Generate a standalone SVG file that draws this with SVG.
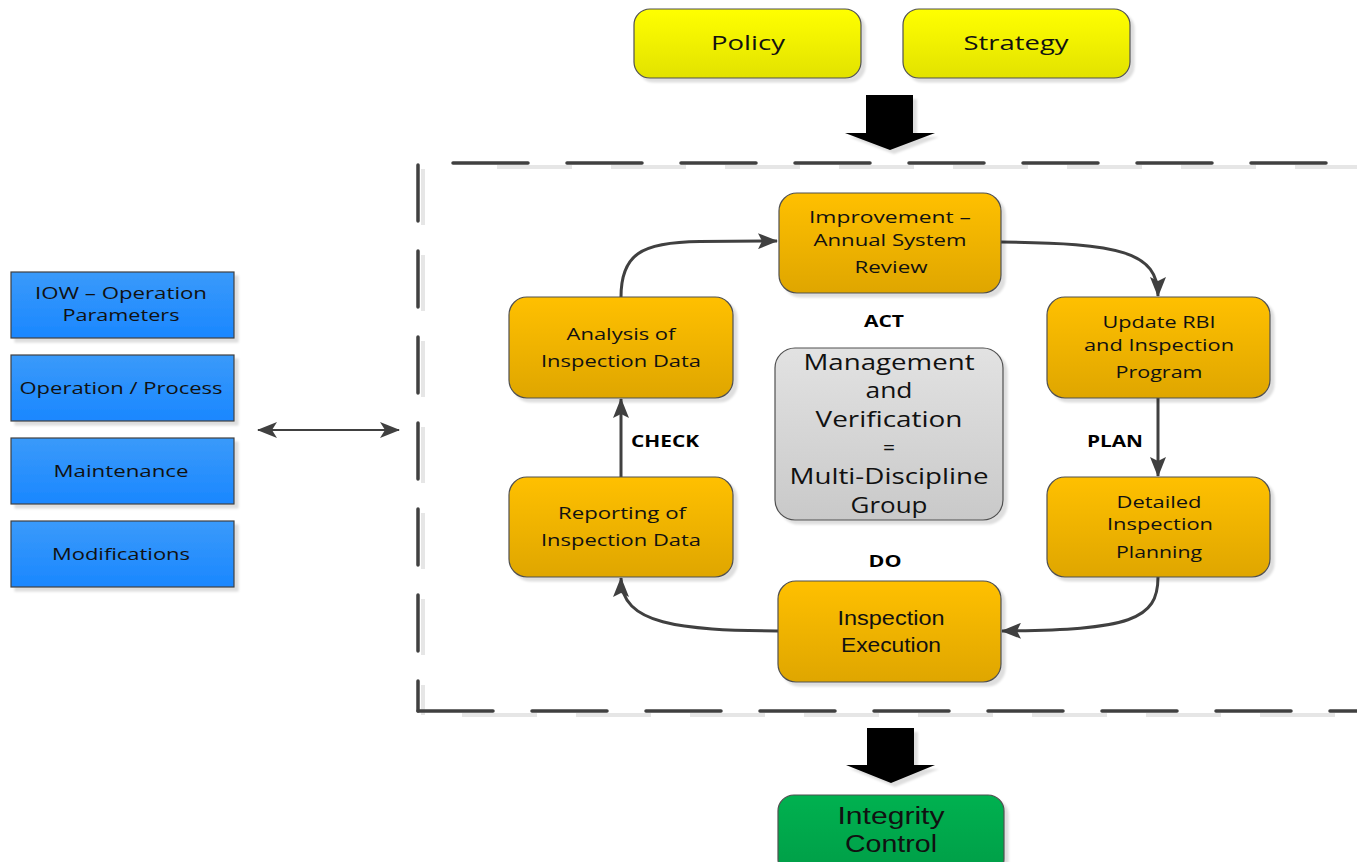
<svg xmlns="http://www.w3.org/2000/svg" width="1357" height="862" viewBox="0 0 1357 862">
<defs>
<linearGradient id="gOrange" x1="0" y1="0" x2="0" y2="1"><stop offset="0" stop-color="#FFC000"/><stop offset="1" stop-color="#DFA600"/></linearGradient>
<linearGradient id="gYellow" x1="0" y1="0" x2="0" y2="1"><stop offset="0" stop-color="#FFFF00"/><stop offset="1" stop-color="#E2E200"/></linearGradient>
<linearGradient id="gBlue" x1="0" y1="0" x2="0" y2="1"><stop offset="0" stop-color="#3A9AFA"/><stop offset="1" stop-color="#1A87FF"/></linearGradient>
<linearGradient id="gGreen" x1="0" y1="0" x2="0" y2="1"><stop offset="0" stop-color="#00B150"/><stop offset="1" stop-color="#009E48"/></linearGradient>
<linearGradient id="gGrey" x1="0" y1="0" x2="0" y2="1"><stop offset="0" stop-color="#E2E2E2"/><stop offset="1" stop-color="#C9C9C9"/></linearGradient>
<filter id="sh" x="-10%" y="-10%" width="130%" height="130%"><feDropShadow dx="4" dy="4" stdDeviation="1" flood-color="#000" flood-opacity="0.13"/></filter>
<marker id="ah" viewBox="0 0 20 16" refX="19" refY="8" markerWidth="20" markerHeight="16" markerUnits="userSpaceOnUse" orient="auto"><path d="M0,0 L20,8 L0,16 L4,8 z" fill="#404040"/></marker>
<marker id="ah2" viewBox="0 0 20 16" refX="19" refY="8" markerWidth="20" markerHeight="16" markerUnits="userSpaceOnUse" orient="auto-start-reverse"><path d="M0,0 L20,8 L0,16 L5,8 z" fill="#404040"/></marker>
</defs>
<style>
.box{stroke:#505050;stroke-width:1.2;filter:url(#sh)}
.or{fill:url(#gOrange)}
.bl{fill:url(#gBlue);stroke:#404040}
.t{font-family:"Open Sans","Liberation Sans",sans-serif;fill:#111;text-anchor:middle}
.s17{font-size:17px}
.s20{font-size:20px}
.s21{font-size:21px}
.lab{font-family:"Open Sans","Liberation Sans",sans-serif;font-weight:bold;font-size:16px;fill:#000;text-anchor:middle}
.cn{font-family:"Liberation Sans","Open Sans",sans-serif;fill:#111;text-anchor:middle}
.dash{fill:none;stroke:#404040;stroke-width:3.5;stroke-linecap:round}
.dsh{fill:none;stroke:#E6E6E6;stroke-width:4}
.con{fill:none;stroke:#404040;stroke-width:3}
</style>

<!-- dashed frame -->
<g id="frame">
<path class="dsh" d="M497,167 H1357" stroke-dasharray="75 39"/>
<path class="dsh" d="M462,715 H1357" stroke-dasharray="75 39"/>
<path class="dsh" d="M423,169 V715" stroke-dasharray="56 30"/>
<path class="dash" d="M453,163 H1357" stroke-dasharray="75 39"/>
<path class="dash" d="M418,165 V711" stroke-dasharray="56 30"/>
<path class="dash" d="M418,711 H1357" stroke-dasharray="75 39"/>
</g>

<!-- big arrows -->
<g id="arrowTop" filter="url(#sh)"><path d="M866,95 H913 V133 H935 L890,150 L845,133 H866 z" fill="#000"/></g>
<g id="arrowBottom" filter="url(#sh)"><path d="M867,728 H914 V765 H935 L891,783 L846,765 H867 z" fill="#000"/></g>

<!-- connectors -->
<g id="connectors">
<path class="con" d="M621,297 C621,255 640,242 700,241.5 L777,241" marker-end="url(#ah)"/>
<path class="con" d="M1001,242 C1120,243 1158,252 1158,296" marker-end="url(#ah)"/>
<path class="con" d="M1158,398 L1158,476" marker-end="url(#ah)"/>
<path class="con" d="M1158,577 C1158,620 1130,630 1002,631" marker-end="url(#ah)"/>
<path class="con" d="M778,631 C680,630 621,625 621,578" marker-end="url(#ah)"/>
<path class="con" d="M621,477 L621,399" marker-end="url(#ah)"/>
<path d="M258,430 H399" fill="none" stroke="#404040" stroke-width="2" marker-start="url(#ah2)" marker-end="url(#ah2)"/>
</g>

<!-- top -->
<g id="policy"><rect class="box" x="634" y="9" width="227" height="69" rx="16" fill="url(#gYellow)"/><text class="t s20" x="748" y="50" textLength="74" lengthAdjust="spacingAndGlyphs">Policy</text></g>
<g id="strategy"><rect class="box" x="903" y="9" width="227" height="69" rx="16" fill="url(#gYellow)"/><text class="t s20" x="1016" y="50" textLength="105" lengthAdjust="spacingAndGlyphs">Strategy</text></g>

<!-- left blue boxes -->
<g id="iow"><rect class="box bl" x="11" y="272" width="223" height="66"/><text class="t s17" x="121" y="299" textLength="172" lengthAdjust="spacingAndGlyphs">IOW – Operation</text><text class="t s17" x="121" y="321" textLength="117" lengthAdjust="spacingAndGlyphs">Parameters</text></g>
<g id="operation"><rect class="box bl" x="11" y="355" width="223" height="66"/><text class="t s17" x="121" y="394" textLength="203" lengthAdjust="spacingAndGlyphs">Operation / Process</text></g>
<g id="maintenance"><rect class="box bl" x="11" y="438" width="223" height="66"/><text class="t s17" x="121" y="477" textLength="135" lengthAdjust="spacingAndGlyphs">Maintenance</text></g>
<g id="modifications"><rect class="box bl" x="11" y="521" width="223" height="66"/><text class="t s17" x="121" y="560" textLength="138" lengthAdjust="spacingAndGlyphs">Modifications</text></g>

<!-- cycle boxes -->
<g id="improvement"><rect class="box or" x="779" y="193" width="222" height="100" rx="18"/>
<text class="t s17" x="890" y="223" textLength="162" lengthAdjust="spacingAndGlyphs">Improvement –</text>
<text class="t s17" x="890" y="246" textLength="153" lengthAdjust="spacingAndGlyphs">Annual System</text>
<text class="t s17" x="891" y="273" textLength="73" lengthAdjust="spacingAndGlyphs">Review</text></g>

<g id="analysis"><rect class="box or" x="509" y="297" width="224" height="101" rx="18"/>
<text class="t s17" x="621" y="340" textLength="109" lengthAdjust="spacingAndGlyphs">Analysis of</text>
<text class="t s17" x="621" y="367" textLength="160" lengthAdjust="spacingAndGlyphs">Inspection Data</text></g>

<g id="update"><rect class="box or" x="1047" y="297" width="223" height="101" rx="18"/>
<text class="t s17" x="1159" y="328" textLength="113" lengthAdjust="spacingAndGlyphs">Update RBI</text>
<text class="t s17" x="1159" y="351" textLength="150" lengthAdjust="spacingAndGlyphs">and Inspection</text>
<text class="t s17" x="1159" y="378" textLength="87" lengthAdjust="spacingAndGlyphs">Program</text></g>

<g id="detailed"><rect class="box or" x="1047" y="477" width="223" height="100" rx="18"/>
<text class="t s17" x="1159" y="508" textLength="85" lengthAdjust="spacingAndGlyphs">Detailed</text>
<text class="t s17" x="1160" y="530" textLength="106" lengthAdjust="spacingAndGlyphs">Inspection</text>
<text class="t s17" x="1159" y="558" textLength="86" lengthAdjust="spacingAndGlyphs">Planning</text></g>

<g id="reporting"><rect class="box or" x="509" y="477" width="224" height="100" rx="18"/>
<text class="t s17" x="622" y="519" textLength="128" lengthAdjust="spacingAndGlyphs">Reporting of</text>
<text class="t s17" x="621" y="546" textLength="160" lengthAdjust="spacingAndGlyphs">Inspection Data</text></g>

<g id="execution"><rect class="box or" x="778" y="581" width="223" height="101" rx="18"/>
<text class="cn" font-size="20" x="891" y="625" textLength="107" lengthAdjust="spacingAndGlyphs">Inspection</text>
<text class="cn" font-size="20" x="891" y="652" textLength="100" lengthAdjust="spacingAndGlyphs">Execution</text></g>

<g id="management"><rect class="box" x="775" y="348" width="228" height="172" rx="20" fill="url(#gGrey)"/>
<text class="t s21" x="889" y="370" textLength="171" lengthAdjust="spacingAndGlyphs">Management</text>
<text class="t s21" x="889" y="398" textLength="47" lengthAdjust="spacingAndGlyphs">and</text>
<text class="t s21" x="889" y="427" textLength="147" lengthAdjust="spacingAndGlyphs">Verification</text>
<text class="t s21" x="889" y="455">=</text>
<text class="t s21" x="889" y="484" textLength="199" lengthAdjust="spacingAndGlyphs">Multi-Discipline</text>
<text class="t s21" x="889" y="513" textLength="77" lengthAdjust="spacingAndGlyphs">Group</text></g>

<!-- phase labels -->
<g id="labels">
<text class="lab" x="884" y="327" textLength="40" lengthAdjust="spacingAndGlyphs">ACT</text>
<text class="lab" x="1115" y="447" textLength="56" lengthAdjust="spacingAndGlyphs">PLAN</text>
<text class="lab" x="665" y="447" textLength="68" lengthAdjust="spacingAndGlyphs">CHECK</text>
<text class="lab" x="885" y="567" textLength="33" lengthAdjust="spacingAndGlyphs">DO</text>
</g>

<g id="integrity"><rect class="box" x="778" y="795" width="226" height="80" rx="16" fill="url(#gGreen)"/>
<text class="cn" font-size="23" x="891" y="824" textLength="107" lengthAdjust="spacingAndGlyphs">Integrity</text>
<text class="cn" font-size="23" x="891" y="852" textLength="92" lengthAdjust="spacingAndGlyphs">Control</text></g>
</svg>
